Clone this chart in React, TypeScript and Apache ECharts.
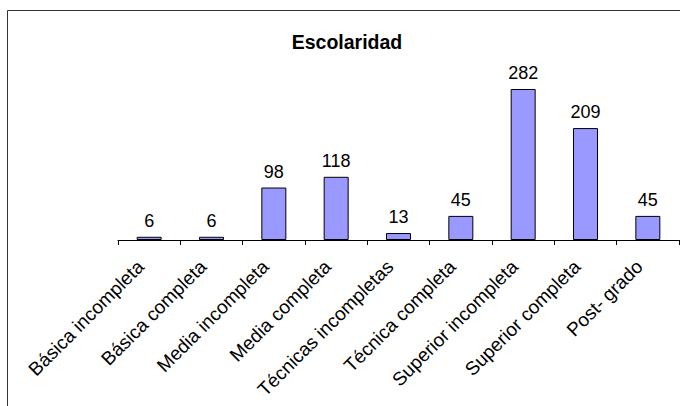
import React, { useEffect, useRef } from "react";
import * as echarts from "echarts";

const titleText = "Escolaridad";
const categories = [
  "Básica incompleta",
  "Básica completa",
  "Media incompleta",
  "Media completa",
  "Técnicas incompletas",
  "Técnica completa",
  "Superior incompleta",
  "Superior completa",
  "Post- grado",
];
const values = [6, 6, 98, 118, 13, 45, 282, 209, 45];

const FONT = "'Liberation Sans', Arial, sans-serif";

export default function App() {
  const ref = useRef<HTMLDivElement>(null);
  useEffect(() => {
    if (!ref.current) return;
    const chart = echarts.init(ref.current, null, { renderer: "svg" });
    chart.setOption({
      animation: false,
      backgroundColor: "#ffffff",
      title: {
        text: titleText,
        left: 342,
        textAlign: "center",
        top: 27,
        textStyle: { fontFamily: FONT, fontSize: 19.5, fontWeight: "bold", color: "#000" },
      },
      graphic: [
        {
          type: "rect",
          shape: { x: 7.5, y: 10.5, width: 700, height: 420 },
          style: { fill: "none", stroke: "#333333", lineWidth: 1 },
          silent: true,
        },
      ],
      grid: {
        left: 118,
        width: 561,
        top: 79.35,
        height: 160.65,
        containLabel: false,
        outerBoundsMode: "none",
      },
      xAxis: {
        type: "category",
        data: categories,
        boundaryGap: true,
        axisLine: { show: true, lineStyle: { color: "#000", width: 1 } },
        axisTick: { show: true, length: 5, lineStyle: { color: "#000" } },
        axisLabel: {
          rotate: 45,
          interval: 0,
          margin: 15,
          padding: [0, 12, 0, 0],
          fontFamily: FONT,
          fontSize: 19,
          color: "#000",
          hideOverlap: false,
        },
      },
      yAxis: {
        type: "value",
        min: 0,
        max: 300,
        show: false,
        splitLine: { show: false },
      },
      series: [
        {
          type: "bar",
          data: values,
          barWidth: 25,
          itemStyle: { color: "#9999ff", borderColor: "#000", borderWidth: 1 },
          label: {
            show: true,
            position: "top",
            distance: 7,
            fontFamily: FONT,
            fontSize: 18,
            color: "#000",
          },
        },
      ],
    });
    return () => chart.dispose();
  }, []);
  return (
    <div
      ref={ref}
      style={{ position: "fixed", left: 0, top: 0, width: 680, height: 406 }}
    />
  );
}
